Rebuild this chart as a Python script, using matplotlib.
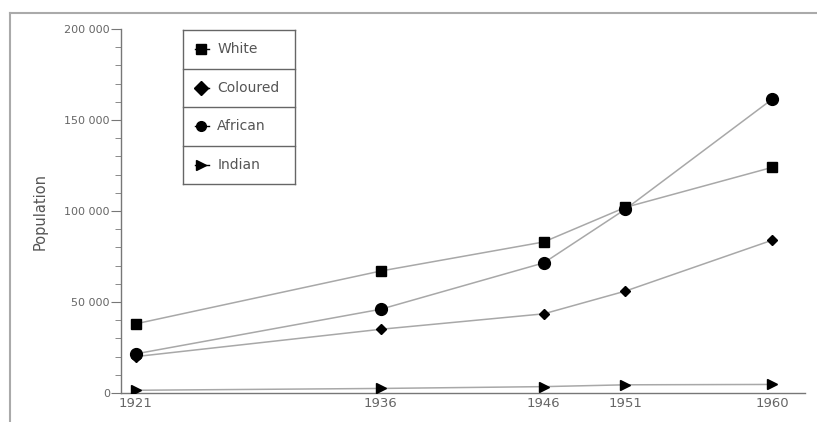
import matplotlib
matplotlib.use("Agg")
import matplotlib.pyplot as plt
from matplotlib.ticker import FixedLocator, MultipleLocator, FuncFormatter
from matplotlib.lines import Line2D

years = [1921, 1936, 1946, 1951, 1960]
white = [38000, 67000, 83000, 102000, 124000]
coloured = [20000, 35000, 43500, 56000, 84000]
african = [21500, 46000, 71500, 101000, 161500]
indian = [1500, 2500, 3500, 4500, 4700]
series_names = ["White", "Coloured", "African", "Indian"]
series_values = [white, coloured, african, indian]
markers = ["s", "D", "o", ">"]
msizes = [7.5, 5.5, 8.5, 6.5]

fig = plt.figure(figsize=(8.17, 4.22), dpi=100)
ax = fig.add_axes([121/817, 1-393/422, (805-121)/817, 364/422])

for vals, m, ms in zip(series_values, markers, msizes):
    ax.plot(years, vals, color="#a8a8a8", lw=1.1, zorder=2)
    ax.plot(years, vals, ls="none", marker=m, ms=ms, color="black", zorder=3)

ax.set_xlim(1920.1, 1962.0)
ax.set_ylim(0, 200000)
for s in ["top", "right"]:
    ax.spines[s].set_visible(False)
for s in ["left", "bottom"]:
    ax.spines[s].set_color("#777777")
    ax.spines[s].set_linewidth(1.0)

ax.xaxis.set_major_locator(FixedLocator(years))
ax.yaxis.set_major_locator(MultipleLocator(50000))
ax.yaxis.set_minor_locator(MultipleLocator(10000))
ax.yaxis.set_major_formatter(FuncFormatter(lambda v, p: f"{int(v):,}".replace(",", " ")))
ax.tick_params(axis="y", which="major", length=7, color="#777777", labelsize=8, labelcolor="#666666", pad=1)
ax.tick_params(axis="y", which="minor", length=4, color="#777777")
ax.tick_params(axis="x", which="major", length=0, labelsize=9.5, labelcolor="#666666", pad=3)
ax.set_ylabel("Population", fontsize=10.5, color="#555555", labelpad=12)

# legend as a boxed table
lx0, lx1 = (183-121)/684, (295-121)/684
ly_top = 1 - (30-29)/364
row_h = (154/4)/364
for i, (name, m) in enumerate(zip(series_names, markers)):
    y0 = ly_top - i*row_h
    yc = y0 - row_h/2
    ax.add_line(Line2D([lx0, lx1], [y0, y0], transform=ax.transAxes, color="#666666", lw=1.0))
    ax.add_line(Line2D([lx0+0.018, lx0+0.038], [yc, yc], transform=ax.transAxes, color="black", lw=1.0))
    ax.plot([lx0+0.026], [yc], marker=m, ms=7, color="black", transform=ax.transAxes, clip_on=False)
    ax.text(lx0+0.05, yc, name, transform=ax.transAxes, fontsize=10, color="#555555", va="center", ha="left")
ybot = ly_top - 4*row_h
ax.add_line(Line2D([lx0, lx1], [ybot, ybot], transform=ax.transAxes, color="#666666", lw=1.0))
ax.add_line(Line2D([lx0, lx0], [ybot, ly_top], transform=ax.transAxes, color="#666666", lw=1.0))
ax.add_line(Line2D([lx1, lx1], [ybot, ly_top], transform=ax.transAxes, color="#666666", lw=1.0))

# outer frame (top and left edges)
fig.add_artist(Line2D([10/817, 1.0], [1-13/422, 1-13/422], transform=fig.transFigure, color="#aaaaaa", lw=1.5))
fig.add_artist(Line2D([10/817, 10/817], [0, 1-13/422], transform=fig.transFigure, color="#aaaaaa", lw=1.5))

fig.savefig("out.png", dpi=100)
